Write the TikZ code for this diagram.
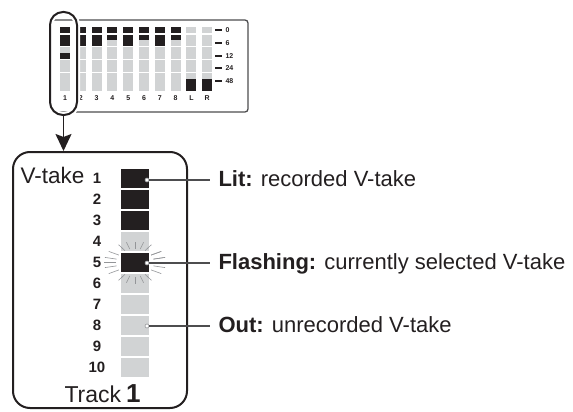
\documentclass[tikz,border=0pt]{standalone}
\usepackage{fontspec}
\setmainfont{Liberation Sans}
\usetikzlibrary{arrows.meta, positioning}
\definecolor{cink}{HTML}{231F20}
\definecolor{cled}{HTML}{D1D3D4}
\definecolor{cline}{HTML}{4D4D4F}
\definecolor{cray}{HTML}{939598}
\tikzset{
  every picture/.style={x=1pt, y=-1pt, line width=1pt},
  panel/.style={draw=cline, line width=1.3pt, rounded corners=3pt},
  meter/.style={font=\bfseries\fontsize{7}{8}\selectfont, text=cink, inner sep=0pt},
  led/.style={minimum width=28pt, minimum height=19pt, inner sep=0pt},
  ledon/.style={led, fill=cink},
  ledoff/.style={led, fill=cled},
  take/.style={font=\bfseries\fontsize{15}{16}\selectfont, text=cink, inner sep=0pt},
  frame/.style={draw=cink, line width=2pt, rounded corners=17pt, inner sep=0pt},
  pick/.style={draw=cink, line width=2pt, rounded corners=13pt, inner sep=0pt,
    preaction={draw=white, line width=6pt}},
  down/.style={-{Stealth[length=17pt, width=16pt, inset=3pt]}, draw=cink, line width=1.6pt},
  lead/.style={draw=cline, line width=1.2pt},
  dot/.style={circle, fill=white, draw=cray, line width=0.6pt, minimum size=4pt, inner sep=0pt},
  note/.style={font=\fontsize{22}{24}\selectfont, text=cink, anchor=west, inner xsep=8pt,
    inner ysep=0pt, text height=16pt, text depth=4pt},
  ray/.style={draw=cray, line width=0.6pt},
}

\begin{document}
\begin{tikzpicture}
  \useasboundingbox (0,0) rectangle (573,412);
  % level meter panel
  \begin{scope}
    \clip (51,0) rectangle (260,130);
    \draw[panel] (40,20) -- (248,20) -- (248,112) -- (40,112);
    \foreach \i/\lab in {1/1,2/2,3/3,4/4,5/5,6/6,7/7,8/8,9/L,10/R} {
      \pgfmathsetmacro{\x}{60+15.8*(\i-1)}
      \foreach \a/\b in {27/33.3,34.6/46,47.3/59,60.3/72,73.3/91}
        \fill[cled] (\x,\a) rectangle ({\x+10},\b);
      \node[meter] (c\i) at ({\x+5},98) {\lab};
    }
    \foreach \i in {1,...,8} {
      \pgfmathsetmacro{\x}{60+15.8*(\i-1)}
      \fill[cink] (\x,27) rectangle ({\x+10},33.3);
    }
    \foreach \i in {1,2,3,5,7} {
      \pgfmathsetmacro{\x}{60+15.8*(\i-1)}
      \fill[cink] (\x,34.6) rectangle ({\x+10},46);
    }
    \foreach \i in {4,6,8} {
      \pgfmathsetmacro{\x}{60+15.8*(\i-1)}
      \fill[cink] (\x,34.6) rectangle ({\x+10},40);
    }
    \fill[cink] (60,53) rectangle (70,59);
    \foreach \i in {9,10} {
      \pgfmathsetmacro{\x}{60+15.8*(\i-1)}
      \fill[cink] (\x,79) rectangle ({\x+10},91);
    }
    \foreach \y/\db in {30/0,43/6,56/12,68/24,81/48} {
      \draw[cink, line width=2pt] (215,\y) -- (222,\y);
      \node[meter, anchor=west] (db\db) at (225,\y) {\db};
    }
  \end{scope}
  \node[pick, minimum width=27pt, minimum height=103pt] (sel) at (63.5,63.5) {};

  % track 1 close-up
  \node[frame, minimum width=174pt, minimum height=256pt] (trk) at (100,280) {};
  \draw[down] (sel.south) -- (sel.south |- trk.north);
  \foreach \n/\s in {1/ledon,2/ledon,3/ledon,4/ledoff,5/ledon,6/ledoff,7/ledoff,8/ledoff,9/ledoff,10/ledoff} {
    \node[\s] (v\n) at (135,{178.5+21*(\n-1)}) {};
    \node[take] (n\n) at (97,{178.5+21*(\n-1)}) {\n};
  }
  \foreach \a in {0,14,-14,32,-32,58,74,90,106,122,148,166,180,194,212,238,254,270,286,302,328,346}
    \draw[ray, shift={(v5.center)}] (\a:19 and 14) -- (\a:31 and 21);
  \node[font=\fontsize{22.5}{24}\selectfont, text=cink, anchor=base west, inner sep=0pt] (vt) at (20,183) {V-take};
  \node[font=\fontsize{23}{24}\selectfont, text=cink, anchor=base west, inner sep=0pt] (tr) at (64,402) {Track};
  \node[font=\bfseries\fontsize{26}{27}\selectfont, text=cink, inner sep=0pt, right=4pt of tr.base east, anchor=base west] (tn) {1};

  % legend
  \node[dot] (d1) at (147,180) {};
  \node[dot] (d2) at (147,263) {};
  \node[dot] (d3) at (147,326) {};
  \node[note] (lit) at (210,180) {\textbf{Lit:} recorded V-take};
  \node[note] (fl) at (210,263) {\textbf{Flashing:} currently selected V-take};
  \node[note] (off) at (210,326) {\textbf{Out:} unrecorded V-take};
  \draw[lead] (d1) -- (lit.west);
  \draw[lead] (d2) -- (fl.west);
  \draw[lead] (d3) -- (off.west);
\end{tikzpicture}
\end{document}
